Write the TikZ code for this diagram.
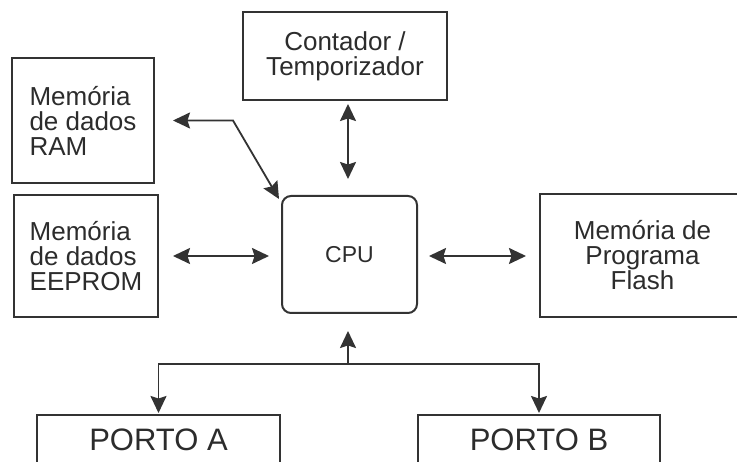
\documentclass[tikz,border=0pt]{standalone}
\usepackage{fontspec}
\setmainfont{Liberation Sans}
\usetikzlibrary{arrows.meta}

\definecolor{ink}{HTML}{333333}
\definecolor{txt}{HTML}{2C2C2C}

\tikzset{
  head/.tip={Stealth[length=17pt,width=16pt,inset=2.5pt]},
  block/.style={draw=ink, line width=2pt, fill=white, inner sep=0pt, text=txt,
                font=\fontsize{26}{25}\selectfont},
  portbox/.style={block, font=\fontsize{31}{31}\selectfont},
  link/.style={draw=ink, line width=1.8pt, arrows={head-head}},
  feed/.style={draw=ink, line width=1.8pt, -head},
}

\begin{document}
\begin{tikzpicture}[x=1pt,y=-1pt]
  \useasboundingbox (0,0) rectangle (737,462);
  \clip (0,0) rectangle (737,462);
  \fill[white] (0,0) rectangle (737,462);

  % memory and peripheral blocks
  \node[block, minimum width=142pt, minimum height=125pt, align=left]
    (ram) at (83,120.5) {Memória\\de dados\\RAM};
  \node[block, minimum width=204pt, minimum height=88pt, align=center]
    (ctr) at (345,56) {Contador /\\Temporizador};
  \node[block, minimum width=144pt, minimum height=122pt, align=left]
    (eeprom) at (86,256) {Memória\\de dados\\EEPROM};
  \node[block, rounded corners=9pt, minimum width=135pt, minimum height=117pt,
        font=\fontsize{23}{23}\selectfont]
    (cpu) at (349.5,254.5) {CPU};
  \node[block, minimum width=205pt, minimum height=123pt, align=center]
    (flash) at (642.5,255.5) {Memória de\\Programa\\Flash};
  \node[portbox, minimum width=243pt, minimum height=49pt]
    (pa) at (158.5,439.5) {PORTO A};
  \node[portbox, minimum width=242pt, minimum height=49pt]
    (pb) at (539,439.5) {PORTO B};

  % bus junction under the CPU
  \coordinate (bus) at (348,364);
  \coordinate (bend) at (233,120.5);

  % connectors
  \draw[link, shorten <=18pt] (ram.east) -- (bend)
        -- ([shift={(-2pt,-4pt)}]cpu.north west);
  \draw[link, shorten <=3pt, shorten >=16pt] (ctr.south -| bus) -- (cpu.north -| bus);
  \draw[link, shorten <=14pt, shorten >=12pt] (eeprom.east) -- (eeprom.east -| cpu.west);
  \draw[link, shorten <=11pt, shorten >=13pt] (cpu.east |- eeprom.east) -- (flash.west |- eeprom.east);
  \draw[feed, shorten >=17pt] (bus) -- (bus |- cpu.south);
  \draw[feed, shorten >=1pt] (bus) -| (pa.north);
  \draw[feed, shorten >=1pt] (bus) -| (pb.north);
\end{tikzpicture}
\end{document}
